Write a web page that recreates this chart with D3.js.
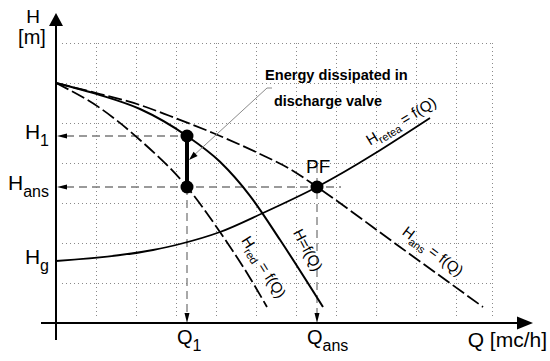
<!DOCTYPE html>
<html><head><meta charset="utf-8">
<script src="https://cdn.jsdelivr.net/npm/d3@7"></script>
<style>body{margin:0;background:#fff} svg{display:block} text{font-family:"Liberation Sans",Arial,Helvetica,sans-serif;fill:#000}</style>
</head><body><svg id="c" width="550" height="361"></svg>
<script>
// ---- data (Q in grid units, H in grid units) ----
const pumpQ = [0, 1.1, 2.1, 3.275, 4.1, 4.85, 5.6, 6.675];
const pumpH = [6.0, 5.7, 5.35, 4.675, 4.03, 3.18, 2.08, 0.4];
const ansQ = [0, 1.1, 2.1, 2.85, 3.925, 5.1, 5.85, 6.525, 8.6, 10.675];
const ansH = [6.0, 5.725, 5.45, 5.175, 4.75, 4.225, 3.85, 3.4, 1.9, 0.4];
const redQ = [0, 1.1, 2.1, 3.275, 4.1, 4.775, 5.275];
const redH = [6.0, 5.375, 4.575, 3.4, 2.275, 1.25, 0.4];
const reteaQ = [0, 2.425, 3.1, 4.1, 5.175, 6.525, 9.35];
const reteaH = [1.55, 1.825, 1.975, 2.275, 2.75, 3.4, 5.125];
const Q1 = 3.275, Qans = 6.525, H1 = 4.675, Hans = 3.4, Hg = 1.55;
const gridQ = [1, 2, 3, 4, 5, 6, 7, 8, 9, 10, 10.9];
const gridH = [1, 2, 3, 4, 5, 6, 7];
const yLabels = [["H", "1"], ["H", "ans"], ["H", "g"]];
const yLabelVals = [H1, Hans, Hg];
const xLabels = [["Q", "1"], ["Q", "ans"]];
const xLabelVals = [Q1, Qans];

const svg = d3.select("#c");
const x = d3.scaleLinear().domain([0, 10]).range([56, 456]);
const y = d3.scaleLinear().domain([0, 7]).range([323, 43]);

// grid
const g = svg.append("g").attr("stroke", "#8a8a8a").attr("stroke-width", 1).attr("stroke-dasharray", "1,3");
g.selectAll("line.v").data(gridQ).join("line")
  .attr("x1", d => Math.round(x(d)) + 0.5).attr("x2", d => Math.round(x(d)) + 0.5)
  .attr("y1", y(7)).attr("y2", y(0.15));
g.selectAll("line.h").data(gridH).join("line").attr("class", "h")
  .attr("x1", x(0.15)).attr("x2", x(10.9))
  .attr("y1", d => Math.round(y(d)) + 0.5).attr("y2", d => Math.round(y(d)) + 0.5);

function arrow(tx, ty, ang, len, hw, fill) {
  const a = ang * Math.PI / 180, dx = Math.cos(a), dy = Math.sin(a);
  const bx = tx - dx * len, by = ty - dy * len;
  svg.append("path").attr("d", `M${tx},${ty}L${bx - dy * hw},${by + dx * hw}L${bx + dy * hw},${by - dx * hw}Z`)
    .attr("fill", fill || "#000");
}

// reference dashed lines
const ref = svg.append("g").attr("stroke", "#7a7a7a").attr("stroke-width", 1.3).attr("stroke-dasharray", "8,5").attr("fill", "none");
ref.append("line").attr("x1", x(0) + 10).attr("x2", x(Q1)).attr("y1", y(H1)).attr("y2", y(H1));
ref.append("line").attr("x1", x(0) + 10).attr("x2", x(Qans) + 24).attr("y1", y(Hans)).attr("y2", y(Hans));
ref.append("line").attr("x1", x(Q1)).attr("x2", x(Q1)).attr("y1", y(Hans)).attr("y2", y(0) - 10);
ref.append("line").attr("x1", x(Qans)).attr("x2", x(Qans)).attr("y1", y(Hans) - 22).attr("y2", y(0) - 10);
arrow(x(0) + 1, y(H1), 180, 10, 2.5);
arrow(x(0) + 1, y(Hans), 180, 10, 2.5);
arrow(x(Q1), y(0), 90, 10, 2.5);
arrow(x(Qans), y(0), 90, 10, 2.5);

// axes
svg.append("line").attr("x1", x(0)).attr("x2", x(0)).attr("y1", y(-0.425)).attr("y2", y(7.5)).attr("stroke", "#000").attr("stroke-width", 2);
svg.append("line").attr("x1", x(-0.375)).attr("x2", x(11.6)).attr("y1", y(0)).attr("y2", y(0)).attr("stroke", "#000").attr("stroke-width", 2);
arrow(x(0), y(7.75), -90, 13, 7);
arrow(x(11.925), y(0), 0, 16, 6.5);

// curves
const line = d3.line().x(d => x(d[0])).y(d => y(d[1])).curve(d3.curveMonotoneX);
const zip = (a, b) => a.map((v, i) => [v, b[i]]);
svg.append("path").attr("d", line(zip(reteaQ, reteaH))).attr("fill", "none").attr("stroke", "#000").attr("stroke-width", 1.8);
svg.append("path").attr("d", line(zip(ansQ, ansH))).attr("fill", "none").attr("stroke", "#000").attr("stroke-width", 1.8).attr("stroke-dasharray", "14,4");
svg.append("path").attr("d", line(zip(redQ, redH))).attr("fill", "none").attr("stroke", "#000").attr("stroke-width", 1.8).attr("stroke-dasharray", "14,4");
svg.append("path").attr("d", line(zip(pumpQ, pumpH))).attr("fill", "none").attr("stroke", "#000").attr("stroke-width", 2);

// throttle segment and points
svg.append("line").attr("x1", x(Q1)).attr("x2", x(Q1)).attr("y1", y(H1)).attr("y2", y(Hans)).attr("stroke", "#000").attr("stroke-width", 4);
svg.selectAll("circle").data([[Q1, H1], [Q1, Hans], [Qans, Hans]]).join("circle")
  .attr("cx", d => x(d[0])).attr("cy", d => y(d[1])).attr("r", 6.5).attr("fill", "#000");

// leader line for annotation
const tipX = x(Q1) + 2, tipY = y(H1) + 24;
svg.append("path").attr("d", `M272,88L267,88L${tipX + 3},${tipY - 3}`).attr("fill", "none").attr("stroke", "#8a8a8a").attr("stroke-width", 1);
arrow(tipX, tipY, 137, 9, 3);

// annotation text
svg.append("text").attr("x", 265).attr("y", 80).attr("font-size", 14.6).attr("font-weight", "bold").text("Energy dissipated in");
svg.append("text").attr("x", 274).attr("y", 106).attr("font-size", 14.4).attr("font-weight", "bold").text("discharge valve");
svg.append("text").attr("x", 306).attr("y", 173).attr("font-size", 19).text("PF");

// axis titles
svg.append("text").attr("x", 33).attr("y", 23).attr("text-anchor", "middle").attr("font-size", 19).text("H");
svg.append("text").attr("x", 32).attr("y", 44).attr("text-anchor", "middle").attr("font-size", 20).text("[m]");
svg.append("text").attr("x", 547).attr("y", 347).attr("text-anchor", "end").attr("font-size", 21).text("Q [mc/h]");

// y labels
yLabels.forEach((p, i) => {
  const t = svg.append("text").attr("x", 49).attr("y", y(yLabelVals[i]) + 3).attr("text-anchor", "end").attr("font-size", 21);
  t.append("tspan").text(p[0]);
  t.append("tspan").attr("dy", 7).attr("font-size", 16).text(p[1]);
});
// x labels
xLabels.forEach((p, i) => {
  const t = svg.append("text").attr("x", x(xLabelVals[i]) - 10).attr("y", 344).attr("font-size", 20);
  t.append("tspan").text(p[0]);
  t.append("tspan").attr("dy", 7).attr("font-size", 16).text(p[1]);
});

// rotated curve labels
function rotLabel(cx, cy, ang, main, sub, rest) {
  const t = svg.append("text").attr("transform", `translate(${cx},${cy}) rotate(${ang})`)
    .attr("text-anchor", "middle").attr("font-size", 15).attr("dy", "0.35em");
  t.append("tspan").text(main);
  if (sub) t.append("tspan").attr("dy", 4).attr("font-size", 11).text(sub);
  t.append("tspan").attr("dy", sub ? -4 : 0).text(rest);
}
rotLabel(401, 121, -31, "H", "retea", " = f(Q)");
rotLabel(433, 251, 37, "H", "ans", " = f(Q)");
rotLabel(264, 267, 58, "H", "red", " = f(Q)");
rotLabel(308, 250, 62, "H=f(Q)", "", "");
</script></body></html>
